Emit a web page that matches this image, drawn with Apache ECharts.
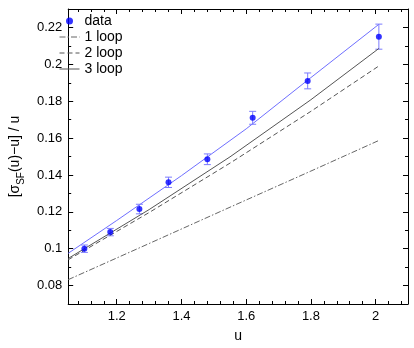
<!DOCTYPE html>
<html>
<head>
<meta charset="utf-8">
<script src="https://cdn.jsdelivr.net/npm/echarts@6/dist/echarts.min.js"></script>
<style>
  html, body { margin: 0; padding: 0; background: #fff; }
  #chart { width: 414px; height: 348px; }
</style>
</head>
<body>
<div id="chart"></div>
<script>
// measured points with error bars
const uData = [1.10, 1.18, 1.27, 1.36, 1.48, 1.62, 1.79, 2.01];
const vData = [0.100, 0.109, 0.1215, 0.136, 0.1485, 0.171, 0.191, 0.215];
const vErr = [0.002, 0.002, 0.0026, 0.0028, 0.0029, 0.0035, 0.0043, 0.0068];

// perturbative curves
const uCurve = [1.05, 1.30, 1.55, 1.80, 2.01];
const loop1 = [0.0832, 0.1028, 0.1225, 0.1421, 0.1587];
const loop2 = [0.0940, 0.1196, 0.1464, 0.1745, 0.1991];
const loop3 = [0.0947, 0.1212, 0.1498, 0.1808, 0.2086];

// fit through the data (blue)
const fitU = [1.05, 1.20, 1.40, 1.60, 1.80, 2.01];
const fitV = [0.0975, 0.1153, 0.1396, 0.1650, 0.1928, 0.2217];

const FONT = 'Liberation Sans, Arial, sans-serif';
const pairs = (xs, ys) => xs.map((x, i) => [x, ys[i]]);

const chart = echarts.init(document.getElementById('chart'));

function axisBase(extra) {
  return Object.assign({
    type: 'value',
    axisLine: { show: true, onZero: false, lineStyle: { color: '#000', width: 1 } },
    axisTick: { show: true, inside: true, length: 5, lineStyle: { color: '#000' } },
    minorTick: { show: true, length: 3, lineStyle: { color: '#000' } },
    splitLine: { show: false },
    axisLabel: { color: '#000', fontSize: 13, fontFamily: FONT, showMinLabel: false, showMaxLabel: false }
  }, extra);
}

// hide the default symbol drawn in the legend for plain lines
const noMark = { opacity: 0 };

const option = {
  animation: false,
  backgroundColor: '#fff',
  grid: { left: 54, right: 6, top: 9, bottom: 32 },
  legend: {
    data: [
      { name: 'data' },
      { name: '1 loop', itemStyle: noMark },
      { name: '2 loop', itemStyle: noMark },
      { name: '3 loop', itemStyle: noMark }
    ],
    orient: 'vertical',
    left: 59,
    top: 14,
    padding: 0,
    itemWidth: 20,
    itemHeight: 7,
    itemGap: 2,
    lineStyle: { width: 1 },
    textStyle: { color: '#000', fontSize: 14, fontFamily: FONT, lineHeight: 14 }
  },
  xAxis: [
    axisBase({
      min: 1.05, max: 2.1, splitNumber: 5,
      minorTick: { show: true, splitNumber: 5, length: 3, lineStyle: { color: '#000' } },
      axisLabel: { color: '#000', fontSize: 13, fontFamily: FONT, margin: 6, showMinLabel: false, showMaxLabel: false },
      name: 'u', nameLocation: 'middle', nameGap: 25,
      nameTextStyle: { color: '#000', fontSize: 14, fontFamily: FONT }
    }),
    axisBase({
      min: 1.05, max: 2.1, splitNumber: 5, position: 'top',
      minorTick: { show: true, splitNumber: 5, length: 3, lineStyle: { color: '#000' } },
      axisLabel: { show: false }
    })
  ],
  yAxis: [
    axisBase({
      min: 0.07, max: 0.23, splitNumber: 8,
      minorTick: { show: true, splitNumber: 2, length: 3, lineStyle: { color: '#000' } },
      axisLabel: { color: '#000', fontSize: 13, fontFamily: FONT, margin: 6, showMinLabel: false, showMaxLabel: false },
      name: '[σ{sub|SF}(u)−u] / u', nameLocation: 'middle', nameGap: 36,
      nameTextStyle: {
        color: '#000', fontSize: 14, fontFamily: FONT,
        rich: { sub: { fontSize: 10, fontFamily: FONT, color: '#000', verticalAlign: 'bottom', lineHeight: 22 } }
      }
    }),
    axisBase({
      min: 0.07, max: 0.23, splitNumber: 8, position: 'right',
      minorTick: { show: true, splitNumber: 2, length: 3, lineStyle: { color: '#000' } },
      axisLabel: { show: false }
    })
  ],
  series: [
    {
      name: 'fit', type: 'line', data: pairs(fitU, fitV), symbol: 'none',
      lineStyle: { color: '#6f6fff', width: 1 }, z: 2, silent: true
    },
    {
      name: '1 loop', type: 'line', data: pairs(uCurve, loop1), symbol: 'none',
      itemStyle: { color: '#666' },
      lineStyle: { color: '#666', width: 1, type: [6, 2, 1.5, 2] }
    },
    {
      name: '2 loop', type: 'line', data: pairs(uCurve, loop2), symbol: 'none',
      itemStyle: { color: '#555' },
      lineStyle: { color: '#555', width: 1, type: [5, 3] }
    },
    {
      name: '3 loop', type: 'line', data: pairs(uCurve, loop3), symbol: 'none',
      itemStyle: { color: '#555' },
      lineStyle: { color: '#555', width: 1 }
    },
    {
      name: 'err', type: 'custom', silent: true, z: 3,
      data: uData.map((u, i) => [u, vData[i] - vErr[i], vData[i] + vErr[i]]),
      encode: { x: 0, y: [1, 2] },
      renderItem: (params, api) => {
        const lo = api.coord([api.value(0), api.value(1)]);
        const hi = api.coord([api.value(0), api.value(2)]);
        const w = 3.5;
        const style = { stroke: '#7b7bff', lineWidth: 1 };
        return {
          type: 'group',
          children: [
            { type: 'line', shape: { x1: lo[0], y1: lo[1], x2: hi[0], y2: hi[1] }, style },
            { type: 'line', shape: { x1: lo[0] - w, y1: lo[1], x2: lo[0] + w, y2: lo[1] }, style },
            { type: 'line', shape: { x1: hi[0] - w, y1: hi[1], x2: hi[0] + w, y2: hi[1] }, style }
          ]
        };
      }
    },
    {
      name: 'data', type: 'scatter', data: pairs(uData, vData),
      symbol: 'circle', symbolSize: 6, z: 4,
      itemStyle: { color: '#0000ff' }
    }
  ]
};

chart.setOption(option);
</script>
</body>
</html>
